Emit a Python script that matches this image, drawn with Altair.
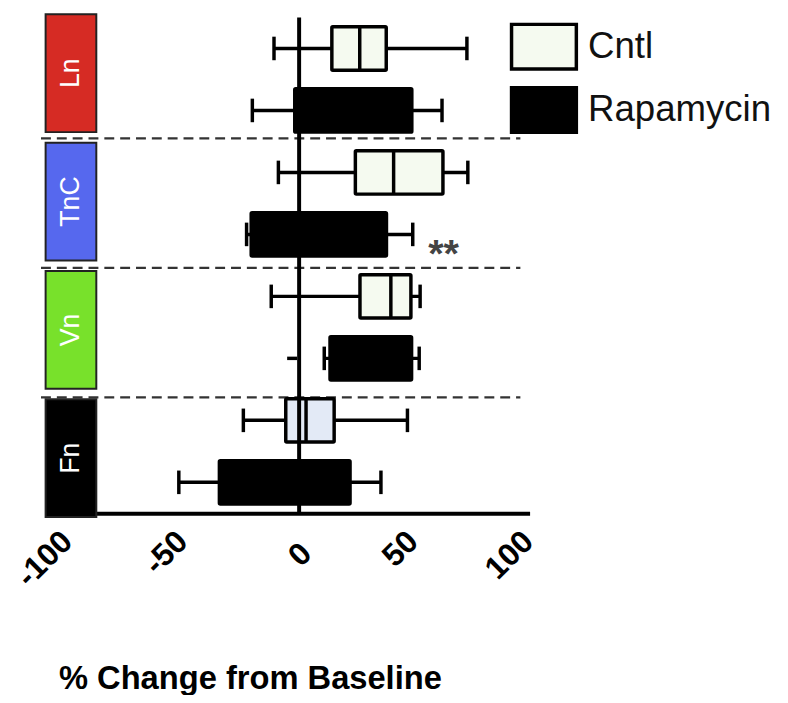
import altair as alt
import pandas as pd

# ---- data ----
groups = ["Ln", "TnC", "Vn", "Fn"]
group_colors = ["#d62b24", "#5668ee", "#78e12b", "#000000"]
treatments = ["Cntl", "Rapamycin"]

cntl_low = [-10.9, -9.0, -12.1, -24.2]
cntl_q1 = [14.2, 24.4, 26.4, -5.8]
cntl_med = [26.3, 41.0, 39.8, 3.0]
cntl_q3 = [37.8, 62.4, 48.5, 15.2]
cntl_high = [72.8, 73.2, 52.5, 47.0]

rapa_low = [-20.3, -22.8, 10.9, -52.2]
rapa_q1 = [-1.9, -20.8, 13.4, -34.6]
rapa_med = [20.0, 5.0, 30.2, -5.0]
rapa_q3 = [48.9, 37.9, 48.8, 22.1]
rapa_high = [62.0, 49.3, 52.1, 35.5]

# small stray dash (outlier) next to the Vn Rapamycin box
stray_group = ["Vn"]
stray_lo = [-5.2]
stray_hi = [-0.9]

# significance mark
sig_group = ["TnC"]
sig_x = [56.0]
sig_text = ["**"]

fill_domain = ["Cntl", "Rapamycin", "Cntl (Fn)"]
fill_range = ["#f5faf0", "#000000", "#e3eaf6"]

# ---- tables ----
rows = []
for g, name in enumerate(groups):
    for t, tr in enumerate(treatments):
        if t == 0:
            lo, a, m, b, hi = cntl_low[g], cntl_q1[g], cntl_med[g], cntl_q3[g], cntl_high[g]
            key = "Cntl (Fn)" if name == "Fn" else "Cntl"
        else:
            lo, a, m, b, hi = rapa_low[g], rapa_q1[g], rapa_med[g], rapa_q3[g], rapa_high[g]
            key = "Rapamycin"
        c = 2 * g + t + 0.5
        rows.append(dict(group=name, treatment=tr, fillkey=key, row=c,
                         low=lo, q1=a, median=m, q3=b, high=hi,
                         btop=c - 0.35, bbot=c + 0.35, ctop=c - 0.19, cbot=c + 0.19))
df = pd.DataFrame(rows)

caps = pd.concat([
    df[["row", "ctop", "cbot"]].assign(val=df["low"]),
    df[["row", "ctop", "cbot"]].assign(val=df["high"]),
])

tops = [2 * g + 0.07 * g - 0.05 for g in range(4)]
lab = pd.DataFrame(dict(group=groups, color=group_colors,
                        top=tops,
                        bot=[t + 1.9 for t in tops],
                        mid=[t + 0.95 for t in tops],
                        xl=[-110] * 4, xr=[-88] * 4, xm=[-99] * 4))

sep = pd.DataFrame(dict(y=[2 * k - 0.05 + 0.09 * (k - 1) for k in (1, 2, 3)],
                        xs=[-112] * 3, xe=[96] * 3))

stray = pd.DataFrame(dict(
    lo=stray_lo, hi=stray_hi,
    row=[2 * groups.index(s) + 1.5 for s in stray_group]))

sig = pd.DataFrame(dict(x=sig_x, text=sig_text,
                        row=[2 * groups.index(s) + 1.5 for s in sig_group]))

zero = pd.DataFrame(dict(x=[0], y=[0], y2=[8]))

xs = alt.Scale(domain=[-110, 100], nice=False, zero=False)
ys = alt.Scale(domain=[0, 8], reverse=True, nice=False, zero=False)

FONT = "Liberation Sans"

xaxis = alt.Axis(values=[-100, -50, 0, 50, 100], grid=False, ticks=False,
                 domain=True, domainColor="black", domainWidth=4,
                 labelAngle=-45, labelAlign="right", labelBaseline="middle",
                 labelPadding={"condition": {"test": "datum.value == 0", "value": 35}, "value": 23},
                 labelOffset={"condition": {"test": "datum.value == 0", "value": 7}, "value": -2},
                 labelFont=FONT, labelFontWeight="bold",
                 labelFontSize=32, labelColor="black", labelBound=False, labelFlush=False,
                 labelExpr="datum.value < 0 ? '-' + abs(datum.value) : '' + datum.value",
                 title="% Change from Baseline", titleFont=FONT,
                 titleFontWeight="bold", titleFontSize=33, titleColor="black",
                 titleAlign="left", titleBaseline="alphabetic",
                 titleX=13, titleY=177, titleAngle=0)

separators = alt.Chart(sep).mark_rule(
    color="#333333", strokeWidth=2.2, strokeDash=[10, 6]
).encode(
    x=alt.X("xs:Q", scale=xs, axis=xaxis),
    x2="xe:Q",
    y=alt.Y("y:Q", scale=ys, axis=None),
)

whisk = alt.Chart(df).mark_rule(color="black", strokeWidth=3.5).encode(
    x=alt.X("low:Q", scale=xs), x2="high:Q",
    y=alt.Y("row:Q", scale=ys),
)

capm = alt.Chart(caps).mark_rule(color="black", strokeWidth=3.5).encode(
    x=alt.X("val:Q", scale=xs),
    y=alt.Y("ctop:Q", scale=ys), y2="cbot:Q",
)

boxes = alt.Chart(df).mark_rect(stroke="black", strokeWidth=3.5, cornerRadius=1).encode(
    x=alt.X("q1:Q", scale=xs), x2="q3:Q",
    y=alt.Y("btop:Q", scale=ys), y2="bbot:Q",
    fill=alt.Fill("fillkey:N",
                  scale=alt.Scale(domain=fill_domain, range=fill_range),
                  legend=alt.Legend(
                      values=["Cntl", "Rapamycin"], title=None,
                      orient="none", legendX=479, legendY=5, padding=0,
                      symbolType="M-1.455,-1H1.455V1H-1.455Z",
                      symbolSize=2025, symbolStrokeColor="black",
                      symbolStrokeWidth=3.5, symbolOpacity=1,
                      labelFont=FONT, labelFontSize=37, labelColor="#111111",
                      labelOffset=20, rowPadding=5, labelLimit=400)),
)

med = alt.Chart(df).mark_rule(color="black", strokeWidth=3.5).encode(
    x=alt.X("median:Q", scale=xs),
    y=alt.Y("btop:Q", scale=ys), y2="bbot:Q",
)

zline = alt.Chart(zero).mark_rule(color="black", strokeWidth=4).encode(
    x=alt.X("x:Q", scale=xs),
    y=alt.Y("y:Q", scale=ys), y2="y2:Q",
)

straym = alt.Chart(stray).mark_rule(color="black", strokeWidth=3.5).encode(
    x=alt.X("lo:Q", scale=xs), x2="hi:Q",
    y=alt.Y("row:Q", scale=ys),
)

labrect = alt.Chart(lab).mark_rect(stroke="#222222", strokeWidth=2).encode(
    x=alt.X("xl:Q", scale=xs), x2="xr:Q",
    y=alt.Y("top:Q", scale=ys), y2="bot:Q",
    color=alt.Color("color:N", scale=None),
)

labtext = alt.Chart(lab).mark_text(
    angle=270, color="white", font=FONT, fontSize=27, align="center", baseline="middle"
).encode(
    x=alt.X("xm:Q", scale=xs),
    y=alt.Y("mid:Q", scale=ys),
    text="group:N",
)

sigm = alt.Chart(sig).mark_text(
    color="#444444", font=FONT, fontSize=40, fontWeight="bold",
    align="left", baseline="alphabetic", dy=33
).encode(
    x=alt.X("x:Q", scale=xs),
    y=alt.Y("row:Q", scale=ys),
    text="text:N",
)

chart = alt.layer(
    separators, whisk, capm, boxes, med, zline, straym, labrect, labtext, sigm
).properties(
    width=489, height=501,
    autosize=alt.AutoSizeParams(type="none"),
    padding={"left": 38, "top": 6, "right": 253, "bottom": 180},
).configure_view(stroke=None)

chart.save("out.html", embed_options={"renderer": "svg", "actions": False})
